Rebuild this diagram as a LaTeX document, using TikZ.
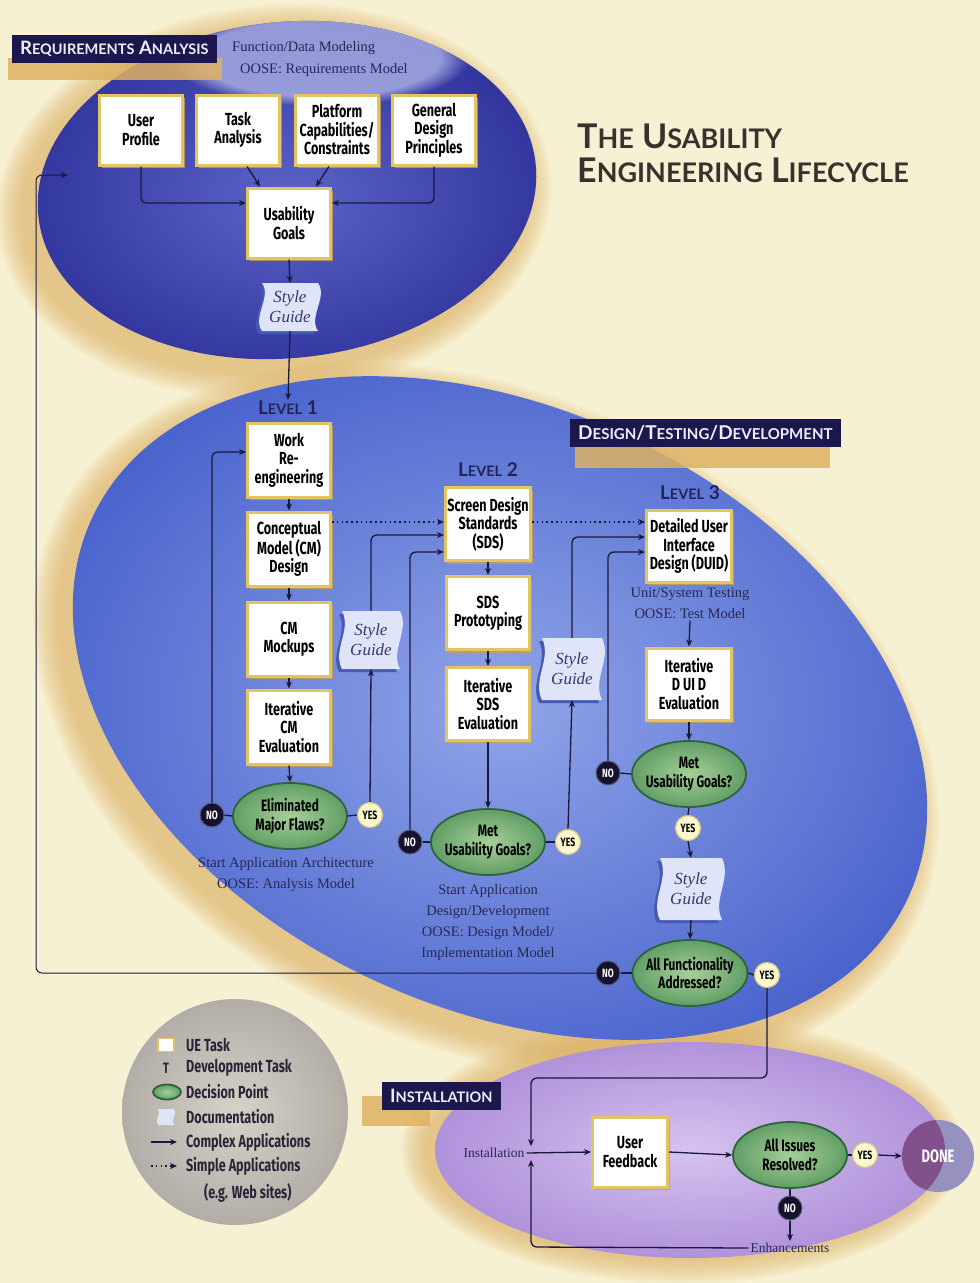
\documentclass[tikz,border=0pt]{standalone}
\usepackage{fontspec}
\setmainfont{Liberation Serif}
\newfontfamily\boxfont{Fira Sans}[FakeStretch=0.72]
\newfontfamily\capfont{Lato}
\usetikzlibrary{arrows.meta,calc,shapes.geometric,shadows,fadings}

\definecolor{cbg}{RGB}{247,241,212}
\definecolor{chalo}{RGB}{222,178,100}
\definecolor{creqi}{RGB}{92,100,200}
\definecolor{creqo}{RGB}{50,54,158}
\definecolor{creql}{RGB}{165,170,225}
\definecolor{cdesi}{RGB}{145,165,232}
\definecolor{cdeso}{RGB}{75,100,205}
\definecolor{cinsi}{RGB}{214,194,240}
\definecolor{cinso}{RGB}{176,146,218}
\definecolor{clegi}{RGB}{214,210,200}
\definecolor{clego}{RGB}{178,173,167}
\definecolor{cnavy}{RGB}{28,24,78}
\definecolor{cbantext}{RGB}{238,238,250}
\definecolor{cboxedge}{RGB}{226,196,98}
\definecolor{cboxshadow}{RGB}{200,160,80}
\definecolor{cdecl}{RGB}{165,208,152}
\definecolor{cdecd}{RGB}{98,158,102}
\definecolor{cdece}{RGB}{45,100,60}
\definecolor{cnofill}{RGB}{22,18,45}
\definecolor{cnoedge}{RGB}{90,90,120}
\definecolor{cyesfill}{RGB}{250,246,205}
\definecolor{cyesedge}{RGB}{215,200,130}
\definecolor{cline}{RGB}{25,25,60}
\definecolor{cserif}{RGB}{40,40,85}
\definecolor{csgfill}{RGB}{224,228,248}
\definecolor{csgshadow}{RGB}{70,90,180}
\definecolor{csgtext}{RGB}{55,55,105}
\definecolor{cdonel}{RGB}{150,145,190}
\definecolor{cdoned}{RGB}{130,80,140}
\definecolor{ctitle}{RGB}{55,50,45}
\definecolor{cleg}{RGB}{45,35,55}
\definecolor{clevel}{RGB}{35,35,90}

\newcommand\Sc[4]{{\fontsize{#1}{#1}\selectfont #3}{\fontsize{#2}{#2}\selectfont #4}}

\tikzset{
  uebox/.style={draw=cboxedge, line width=3pt, fill=white, minimum width=83pt,
    minimum height=72pt, align=center, inner sep=2pt, text=black,
    font=\boxfont\bfseries\fontsize{17.5}{18.5}\selectfont,
    drop shadow={shadow xshift=2pt, shadow yshift=-3pt, fill=cboxshadow, opacity=0.8}},
  decn/.style={ellipse, draw=cdece, line width=1.8pt, inner color=cdecl, outer color=cdecd,
    minimum width=114pt, minimum height=66pt, align=center, inner xsep=-3pt, inner ysep=0pt, text=black,
    font=\boxfont\bfseries\fontsize{16.5}{18.5}\selectfont},
  nobtn/.style={circle, fill=cnofill, draw=cnoedge, line width=1pt, minimum size=24pt,
    inner sep=0pt, text=white, font=\boxfont\bfseries\fontsize{12}{12}\selectfont},
  yesbtn/.style={circle, fill=cyesfill, draw=cyesedge, line width=1.2pt, minimum size=25pt,
    inner sep=0pt, text=black, font=\boxfont\bfseries\fontsize{12}{12}\selectfont},
  arr/.style={draw=cline, line width=1.3pt, -{Stealth[length=7pt,width=6pt]}},
  ln/.style={draw=cline, line width=1.3pt},
  dotarr/.style={draw=cline, line width=1.3pt, dash pattern=on 1.6pt off 3.2pt, -{Stealth[length=7pt,width=6pt]}},
  banner/.style={anchor=west, fill=cnavy, text=cbantext, inner xsep=8pt, minimum height=28pt,
    font=\capfont\bfseries\fontsize{19}{22}\selectfont},
  serif/.style={text=cserif, align=center, inner sep=2pt, font=\fontsize{14.5}{21}\selectfont},
  sgtext/.style={text=csgtext, align=center, inner sep=0pt, font=\itshape\fontsize{17}{20}\selectfont},
  lvl/.style={text=clevel, inner sep=1pt, font=\capfont\bfseries\fontsize{19}{20}\selectfont},
  legtext/.style={anchor=west, text=cleg, inner sep=1pt, font=\boxfont\bfseries\fontsize{17.5}{18}\selectfont},
}

% style guide: name, x, y, half width, half height
\newcommand\sgnode[5]{%
  \fill[csgshadow] ({#2-#4-3},{#3-#5+3}) .. controls ({#2-#4+7},{#3-10+3}) and ({#2-#4-13},{#3+10+3}) .. ({#2-#4-3},{#3+#5+3})
     -- ({#2+#4-3},{#3+#5+3}) .. controls ({#2+#4-13},{#3+10+3}) and ({#2+#4+7},{#3-10+3}) .. ({#2+#4-3},{#3-#5+3}) -- cycle;
  \fill[csgfill] ({#2-#4},{#3-#5}) .. controls ({#2-#4+10},{#3-10}) and ({#2-#4-10},{#3+10}) .. ({#2-#4},{#3+#5})
     -- ({#2+#4},{#3+#5}) .. controls ({#2+#4-10},{#3+10}) and ({#2+#4+10},{#3-10}) .. ({#2+#4},{#3-#5}) -- cycle;
  \node[sgtext, minimum width={2*#4}, minimum height={2*#5}] (#1) at (#2,#3) {Style\\Guide};
}

\begin{document}
\begin{tikzpicture}[x=1pt,y=-1pt]
\useasboundingbox (0,0) rectangle (980,1283);
\fill[cbg] (0,0) rectangle (980,1283);

% ---- halos
\foreach \i in {1,...,12}{
  \fill[chalo, opacity=0.08, rotate around={6:(274,201)}] (274,201) ellipse [x radius={252+2.2*\i}, y radius={170+2.2*\i}];
  \fill[chalo, opacity=0.08, rotate around={-25:(486,720)}] (486,720) ellipse [x radius={450+2.2*\i}, y radius={300+2.2*\i}];
  \fill[chalo, opacity=0.08] (682,1150) ellipse [x radius={255+2.2*\i}, y radius={108+2.2*\i}];
}

% ---- regions
\shade[inner color=creqi, outer color=creqo, rotate around={6:(287,190)}] (287,190) ellipse [x radius=250, y radius=168];
\begin{scope}
  \clip[rotate around={6:(287,190)}] (287,190) ellipse [x radius=250, y radius=168];
  \fill[creql, opacity=0.85, path fading=circle with fuzzy edge 20 percent] (320,58) ellipse [x radius=150, y radius=48];
\end{scope}
\shade[inner color=cdesi, outer color=cdeso, rotate around={-25:(500,708)}] (500,708) ellipse [x radius=450, y radius=300];
\shade[inner color=cinsi, outer color=cinso] (690,1150) ellipse [x radius=255, y radius=108];
\shade[inner color=clegi, outer color=clego] (235,1112) circle [radius=113];

% ---- banner shadows
\fill[chalo, opacity=.85] (8,58) rectangle (222,80);
\fill[chalo, opacity=.85] (575,445) rectangle (830,468);
\fill[chalo, opacity=.85] (362,1096) rectangle (430,1126);

% ---- banners and titles
\node[banner] (rab) at (12,49) {\Sc{18.5}{14.5}{R}{EQUIREMENTS} \Sc{18.5}{14.5}{A}{NALYSIS}};
\node[banner] (dtd) at (570,433) {\Sc{19}{15}{D}{ESIGN}/\Sc{19}{15}{T}{ESTING}/\Sc{19}{15}{D}{EVELOPMENT}};
\node[banner] (insb) at (382,1096) {\Sc{18.5}{14.5}{I}{NSTALLATION}};
\node[anchor=west, text=cserif, inner sep=0pt, font=\fontsize{14.5}{16}\selectfont] (fd1) at (232,48) {Function/Data Modeling};
\node[anchor=west, text=cserif, inner sep=0pt, font=\fontsize{14.5}{16}\selectfont] (fd2) at (240,70) {OOSE: Requirements Model};
\node[anchor=north west, align=left, text=ctitle, inner sep=0pt, font=\capfont\bfseries\fontsize{34}{34}\selectfont] (title) at (577,124)
  {\Sc{34}{27}{T}{HE} \Sc{34}{27}{U}{SABILITY}\\\Sc{34}{27}{E}{NGINEERING} \Sc{34}{27}{L}{IFECYCLE}};

% ---- requirements analysis
\node[uebox, minimum height=70pt] (up) at (141,130) {User\\Profile};
\node[uebox, minimum height=70pt] (ta) at (238,130) {Task\\Analysis};
\node[uebox, minimum height=70pt] (pc) at (337,130) {Platform\\Capabilities/\\Constraints};
\node[uebox, minimum height=70pt] (gd) at (434,130) {General\\Design\\Principles};
\node[uebox, minimum height=70pt] (ug) at (289,223) {Usability\\Goals};
\sgnode{sg1}{290}{307}{28}{24}

% ---- level 1
\node[lvl] (l1) at (288,408) {\Sc{19}{14.5}{L}{EVEL} 1};
\node[uebox, minimum height=74pt] (wr) at (289,460) {Work\\Re-\\engineering};
\node[uebox, minimum height=74pt] (cm) at (289,549) {Conceptual\\Model (CM)\\Design};
\node[uebox, minimum height=74pt] (mk) at (289,639) {CM\\Mockups};
\node[uebox, minimum height=74pt] (ic) at (289,727) {Iterative\\CM\\Evaluation};
\node[decn] (d1) at (290,816) {Eliminated\\Major Flaws?};
\node[nobtn] (no1) at (212,815) {NO};
\node[yesbtn] (yes1) at (370,815) {YES};
\sgnode{sg2}{371}{640}{29}{29}
\node[serif] (t1) at (286,875) {Start Application Architecture\\OOSE: Analysis Model};

% ---- level 2
\node[lvl] (l2) at (488,470) {\Sc{19}{14.5}{L}{EVEL} 2};
\node[uebox, minimum height=73pt] (sds) at (488,524) {Screen Design\\Standards\\(SDS)};
\node[uebox, minimum height=73pt] (sp) at (488,613) {SDS\\Prototyping};
\node[uebox, minimum height=73pt] (ie) at (488,704) {Iterative\\SDS\\Evaluation};
\node[decn] (d2) at (488,842) {Met\\Usability Goals?};
\node[nobtn] (no2) at (410,842) {NO};
\node[yesbtn] (yes2) at (568,842) {YES};
\sgnode{sg3}{572}{669}{30}{31}
\node[serif] (t2) at (488,902) {Start Application\\Design/Development};
\node[serif] (t3) at (488,944) {OOSE: Design Model/\\Implementation Model};

% ---- level 3
\node[lvl] (l3) at (690,493) {\Sc{19}{14.5}{L}{EVEL} 3};
\node[uebox, minimum width=85pt, minimum height=72pt] (duid) at (689,546) {Detailed User\\Interface\\Design (DUID)};
\node[serif] (t4) at (690,603) {Unit/System Testing\\OOSE: Test Model};
\node[uebox, minimum width=85pt, minimum height=72pt] (idd) at (689,684) {Iterative\\D UI D\\Evaluation};
\node[decn] (d3) at (689,774) {Met\\Usability Goals?};
\node[nobtn] (no3) at (608,773) {NO};
\node[yesbtn] (yes3) at (688,828) {YES};
\sgnode{sg4}{691}{889}{31}{31}
\node[decn] (d4) at (690,973) {All Functionality\\Addressed?};
\node[nobtn] (no4) at (608,973) {NO};
\node[yesbtn] (yes4) at (767,975) {YES};

% ---- installation
\fill[cdonel] (938,1156) circle [radius=36];
\begin{scope}
  \clip (690,1150) ellipse [x radius=255, y radius=108];
  \fill[cdoned] (938,1156) circle [radius=36];
\end{scope}
\node[circle, minimum size=72pt, inner sep=0pt, text=white, font=\boxfont\bfseries\fontsize{18}{18}\selectfont] (done) at (938,1156) {DONE};
\node[serif, font=\fontsize{13.5}{15}\selectfont] (inst) at (494,1153) {Installation};
\node[uebox, minimum width=75pt, minimum height=70pt] (uf) at (630,1152) {User\\Feedback};
\node[decn] (d5) at (790,1155) {All Issues\\Resolved?};
\node[yesbtn] (yes5) at (865,1155) {YES};
\node[nobtn] (no5) at (790,1208) {NO};
\node[serif, font=\fontsize{13.5}{15}\selectfont] (enh) at (790,1248) {Enhancements};

% ---- legend
\node[fill=white, draw=cboxedge, line width=1.5pt, minimum width=16pt, minimum height=13pt, inner sep=0pt] (lg1) at (166,1045) {};
\node[legtext] (lt1) at (185,1045) {UE Task};
\node[inner sep=0pt, text=cleg, font=\boxfont\bfseries\fontsize{15}{15}\selectfont] (lg2) at (166,1068) {T};
\node[legtext] (lt2) at (185,1068) {Development Task};
\node[ellipse, draw=cdece, line width=1.8pt, inner color=cdecl, outer color=cdecd, minimum width=28pt, minimum height=15pt, inner sep=0pt] (lg3) at (167,1092) {};
\node[legtext] (lt3) at (185,1092) {Decision Point};
\fill[csgfill] (158,1109) .. controls (162,1113) and (154,1121) .. (158,1125) -- (174,1125) .. controls (170,1121) and (178,1113) .. (174,1109) -- cycle;
\node[legtext] (lt4) at (185,1117) {Documentation};
\coordinate (la1) at (151,1142);
\coordinate (la2) at (177,1142);
\draw[arr] (la1) -- (la2);
\node[legtext] (lt5) at (185,1142) {Complex Applications};
\coordinate (la3) at (151,1166);
\coordinate (la4) at (177,1166);
\draw[dotarr] (la3) -- (la4);
\node[legtext] (lt6) at (185,1166) {Simple Applications};
\node[legtext] (lt7) at (203,1193) {(e.g. Web sites)};

% ---- connectors: requirements
\draw[arr, rounded corners=5pt] (up.south) |- ([yshift=20pt]ug.west);
\draw[arr, rounded corners=5pt] (gd.south) |- ([yshift=20pt]ug.east);
\draw[arr] ([xshift=9pt]ta.south) -- ([xshift=-29pt]ug.north);
\draw[arr] ([xshift=-8pt]pc.south) -- ([xshift=27pt]ug.north);
\draw[arr] (ug.south) -- (sg1.north);
\draw[arr] (sg1.south) -- (l1.north);

% ---- level 1
\draw[arr] (wr.south) -- (cm.north);
\draw[arr] (cm.south) -- (mk.north);
\draw[arr] (mk.south) -- (ic.north);
\draw[arr] (ic.south) -- (d1.north);
\draw[ln] (no1.east) -- (d1.west);
\draw[ln] (d1.east) -- (yes1.west);
\draw[arr, rounded corners=6pt] (no1.north) |- ([yshift=8pt]wr.west);
\draw[arr] (yes1.north) -- (sg2.south);
\draw[arr, rounded corners=6pt] (sg2.north) |- ([yshift=-11pt]sds.west);
\draw[dotarr] ([yshift=27pt]cm.east) -- ([yshift=2pt]sds.west);

% ---- level 2
\draw[arr] (sds.south) -- (sp.north);
\draw[arr] (sp.south) -- (ie.north);
\draw[arr] (ie.south) -- (d2.north);
\draw[ln] (no2.east) -- (d2.west);
\draw[ln] (d2.east) -- (yes2.west);
\draw[arr, rounded corners=6pt] (no2.north) |- ([yshift=-28pt]sds.west);
\draw[arr] (yes2.north) -- (sg3.south);
\draw[arr, rounded corners=6pt] (sg3.north) |- ([yshift=9pt]duid.west);
\draw[dotarr] ([yshift=2pt]sds.east) -- ([yshift=24pt]duid.west);

% ---- level 3
\draw[arr] (t4.south) -- (idd.north);
\draw[arr] (idd.south) -- (d3.north);
\draw[ln] (no3.east) -- (d3.west);
\draw[arr, rounded corners=6pt] (no3.north) |- ([yshift=-6pt]duid.west);
\draw[ln] (d3.south) -- (yes3.north);
\draw[arr] (yes3.south) -- (sg4.north);
\draw[arr] (sg4.south) -- (d4.north);
\draw[ln] (no4.east) -- (d4.west);
\draw[ln] (d4.east) -- (yes4.west);
\coordinate (c4) at (36,973);
\coordinate (reqin) at (68,175);
\draw[arr, line width=1pt, rounded corners=6pt] (no4.west) -- (c4) |- (reqin);

% ---- installation
\coordinate (k1) at (531,1078);
\coordinate (k2) at (531,1247);
\draw[arr, rounded corners=6pt] (yes4.south) |- (k1) -- (k1 |- inst.north);
\draw[arr, rounded corners=6pt] (enh.west) -- (k2) -- (k2 |- inst.south);
\draw[arr] (inst.east) -- (uf.west);
\draw[arr] (uf.east) -- (d5.west);
\draw[ln] (d5.east) -- (yes5.west);
\draw[arr] (yes5.east) -- (done.west);
\draw[ln] (d5.south) -- (no5.north);
\draw[arr] (no5.south) -- (enh.north);
\end{tikzpicture}
\end{document}
